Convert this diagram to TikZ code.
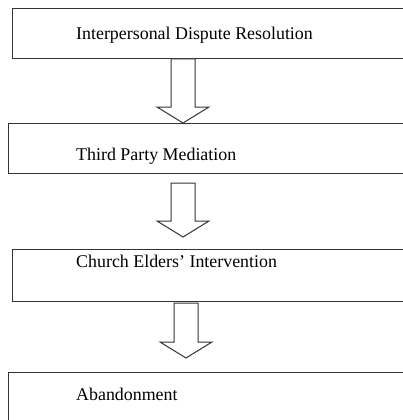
\documentclass[tikz,border=0pt]{standalone}
\usepackage{fontspec}
\setmainfont{Liberation Serif}
\usetikzlibrary{calc}
\tikzset{>=latex}
\tikzset{
  stage/.style={draw=black!80, line width=1pt, rectangle, minimum width=430pt, anchor=north west, inner sep=0pt},
  stagetext/.style={anchor=base west, inner sep=0pt, font=\fontsize{17.9}{21}\selectfont},
  hollow/.style={draw=black!80, line width=1pt, fill=white, line join=miter}
}
% block arrow from shaft top (#1) to tip (#2)
\newcommand{\flowarrow}[2]{%
  \draw[hollow] let \p1=(#1), \p2=(#2) in
    (\x1-12pt,\y1) -- (\x1-12pt,\y2+16pt) -- (\x1-26pt,\y2+16pt) -- (\p2)
    -- (\x1+26pt,\y2+16pt) -- (\x1+12pt,\y2+16pt) -- (\x1+12pt,\y1) -- cycle;}

\begin{document}
\begin{tikzpicture}[x=1pt, y=-1pt]
  \clip (0,0) rectangle (403,420);

  % Stages
  \node[stage, minimum height=50pt] (idr) at (12,8) {};
  \node[stage, minimum height=50pt] (tpm) at (8,123) {};
  \node[stage, minimum height=52pt] (cei) at (12,249) {};
  \node[stage, minimum height=60pt] (aban) at (8,372) {};

  % Labels
  \node[stagetext] (idrtext) at (76,40) {Interpersonal Dispute Resolution};
  \node[stagetext] (tpmtext) at (76,160) {Third Party Mediation};
  \node[stagetext] (ceitext) at (76,267) {Church Elders' Intervention};
  \node[stagetext] (abantext) at (76,400) {Abandonment};

  % Arrows
  \coordinate (a1top) at (idr.south -| 183,0);
  \coordinate (a1tip) at (tpm.north -| 183,0);
  \coordinate (a2top) at (183,183);
  \coordinate (a2tip) at (183,237);
  \coordinate (a3top) at (186,303);
  \coordinate (a3tip) at (186,358);
  \flowarrow{a1top}{a1tip}
  \flowarrow{a2top}{a2tip}
  \flowarrow{a3top}{a3tip}

\end{tikzpicture}
\end{document}
